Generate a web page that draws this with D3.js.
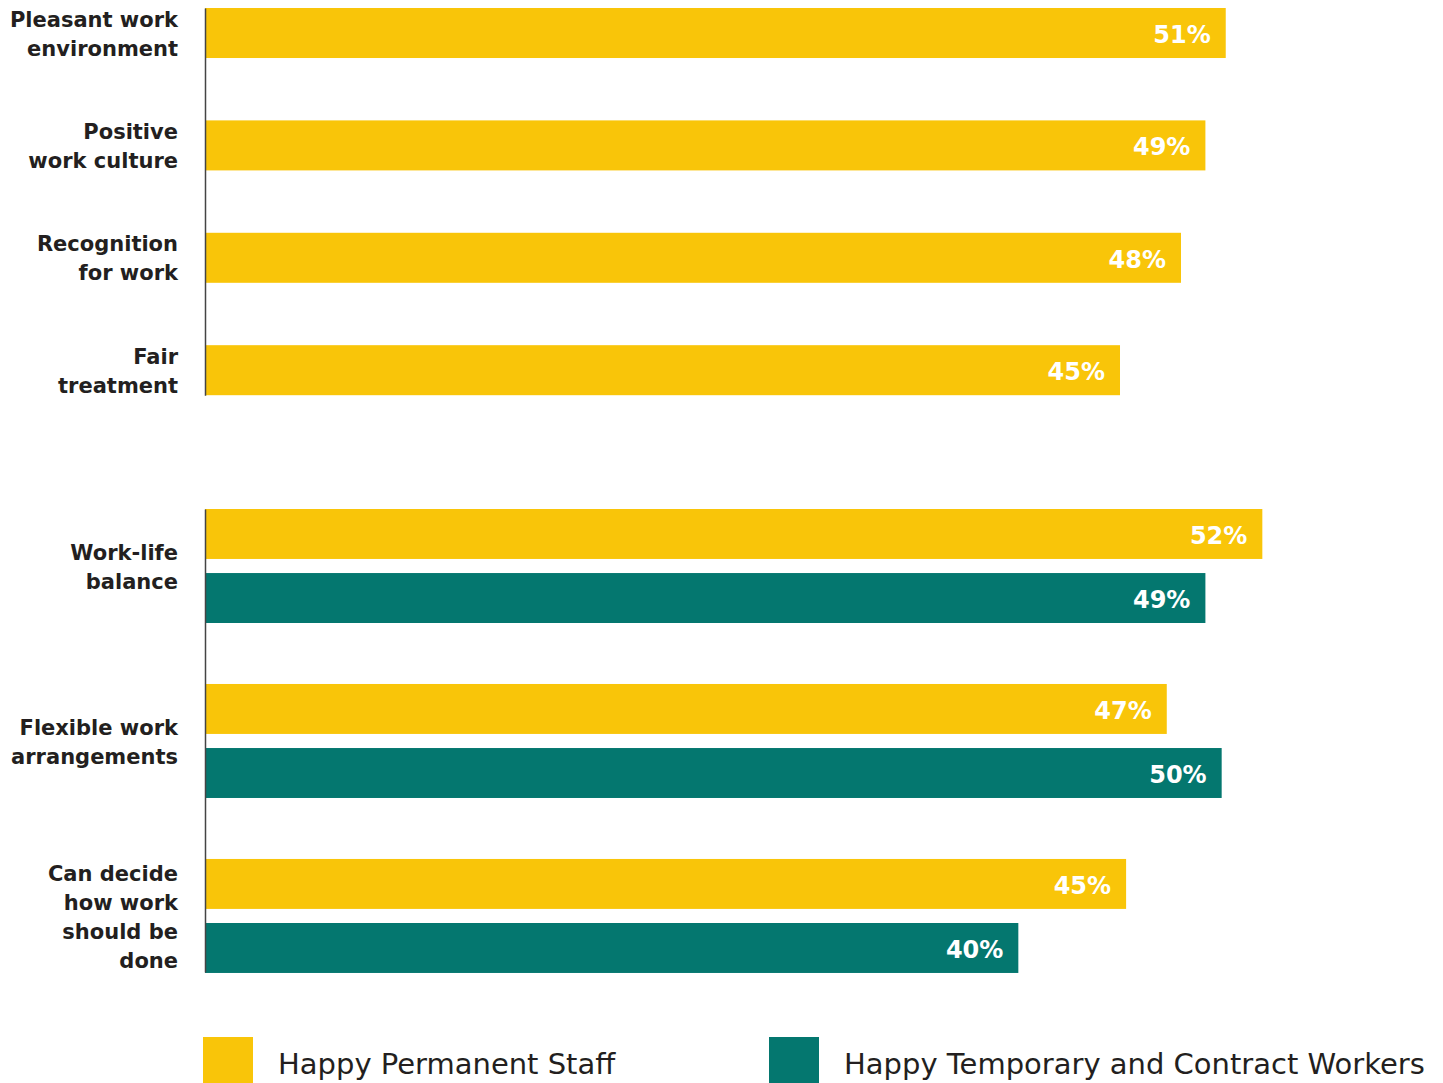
<!DOCTYPE html>
<html>
<head>
<meta charset="utf-8">
<script src="https://cdn.jsdelivr.net/npm/d3@7"></script>
<style>
  body { margin: 0; background: #fff; }
  svg { display: block; }
</style>
</head>
<body>
<div id="chart"></div>
<script>
// top group: only permanent staff
var topCategories = ["Pleasant work\nenvironment", "Positive\nwork culture", "Recognition\nfor work", "Fair\ntreatment"];
var topValues = [50.2, 49.2, 48.0, 45.0];
var topLabels = ["51%", "49%", "48%", "45%"];

// bottom group: permanent vs temporary
var bottomCategories = ["Work-life\nbalance", "Flexible work\narrangements", "Can decide\nhow work\nshould be\ndone"];
var permValues = [52.0, 47.3, 45.3];
var permLabels = ["52%", "47%", "45%"];
var tempValues = [49.2, 50.0, 40.0];
var tempLabels = ["49%", "50%", "40%"];

var seriesNames = ["Happy Permanent Staff", "Happy Temporary and Contract Workers"];
var colors = ["#F9C509", "#04776F"];

var width = 1443, height = 1083;
var x0 = 205;

var svg = d3.select("#chart").append("svg")
  .attr("width", width)
  .attr("height", height);

var x = d3.scaleLinear().domain([0, 60]).range([x0, x0 + 1220]);

var yTop = d3.scaleBand().domain(topCategories).range([8, 395.2]).paddingInner(0.555).paddingOuter(0);
var yBottom = d3.scaleBand().domain(bottomCategories).range([509, 972]).paddingInner(0.354).paddingOuter(0);
var ySeries = d3.scaleBand().domain(seriesNames).range([0, 114]).paddingInner(0.22).paddingOuter(0);

var labelFont = "'DejaVu Sans', sans-serif";

function drawCategoryLabel(g, text, cy) {
  var lines = text.split("\n");
  var lh = 29;
  var t = g.append("text")
    .attr("text-anchor", "end")
    .attr("font-family", labelFont)
    .attr("font-weight", "bold")
    .attr("font-size", 21)
    .attr("fill", "#231F20");
  lines.forEach(function (line, i) {
    t.append("tspan")
      .attr("x", 178)
      .attr("y", cy - (lines.length - 1) * lh / 2 + i * lh + 8)
      .text(line);
  });
}

function drawBar(g, y, h, value, label, color) {
  g.append("rect")
    .attr("x", x(0))
    .attr("y", y)
    .attr("width", x(value) - x(0))
    .attr("height", h)
    .attr("fill", color);
  g.append("text")
    .attr("x", x(value) - 15)
    .attr("y", y + h / 2 + 10)
    .attr("text-anchor", "end")
    .attr("font-family", labelFont)
    .attr("font-weight", "bold")
    .attr("font-size", 24)
    .attr("fill", "#fff")
    .text(label);
}

// top group
var gTop = svg.append("g");
topCategories.forEach(function (c, i) {
  drawBar(gTop, yTop(c), yTop.bandwidth(), topValues[i], topLabels[i], colors[0]);
  drawCategoryLabel(gTop, c, yTop(c) + yTop.bandwidth() / 2);
});

// bottom group
var gBottom = svg.append("g");
bottomCategories.forEach(function (c, i) {
  var y = yBottom(c);
  drawBar(gBottom, y + ySeries(seriesNames[0]), ySeries.bandwidth(), permValues[i], permLabels[i], colors[0]);
  drawBar(gBottom, y + ySeries(seriesNames[1]), ySeries.bandwidth(), tempValues[i], tempLabels[i], colors[1]);
  drawCategoryLabel(gBottom, c, y + yBottom.bandwidth() / 2 + 1);
});

// axis lines
[yTop, yBottom].forEach(function (sc) {
  var ax = svg.append("g")
    .attr("transform", "translate(" + x0 + ",0)")
    .call(d3.axisLeft(sc).tickSize(0).tickSizeOuter(0).tickFormat(""));
  ax.select(".domain").attr("stroke", "#444").attr("stroke-width", 1.5);
});

// legend
var legendX = [203, 769];
var legend = svg.append("g");
seriesNames.forEach(function (name, i) {
  legend.append("rect")
    .attr("x", legendX[i])
    .attr("y", 1037)
    .attr("width", 50)
    .attr("height", 50)
    .attr("fill", colors[i]);
  legend.append("text")
    .attr("x", legendX[i] + 75)
    .attr("y", 1074)
    .attr("font-family", labelFont)
    .attr("font-size", 29)
    .attr("fill", "#231F20")
    .text(name);
});
</script>
</body>
</html>
